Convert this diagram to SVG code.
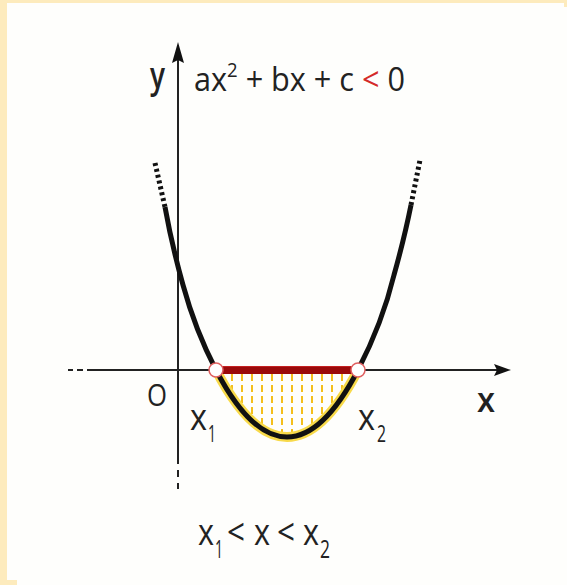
<svg xmlns="http://www.w3.org/2000/svg" width="567" height="585" viewBox="0 0 567 585">
<style>
.t{font-family:"Open Sans","Liberation Sans",sans-serif;fill:#222}
.ax{stroke:#222;stroke-width:2;fill:none}
.curve{stroke:#111;stroke-width:5;fill:none;stroke-linecap:butt}
.dots{stroke:#111;stroke-width:5;fill:none;stroke-dasharray:3 3}
.hatch{stroke:#f4bf1c;stroke-width:2;stroke-dasharray:7 4}
</style>
<rect x="0" y="0" width="567" height="585" fill="#fdebbd"/>
<rect x="7" y="3" width="560" height="582" fill="#fefefc"/>
<rect x="0" y="580" width="17" height="5" fill="#fdebbd"/>
<rect x="564" y="0" width="3" height="7" fill="#fdebbd"/>

<g id="axes">
  <line class="ax" x1="178" y1="60" x2="178" y2="464"/>
  <line class="ax" x1="178" y1="470" x2="178" y2="477"/>
  <line class="ax" x1="178" y1="483" x2="178" y2="489"/>
  <polygon points="178,42 184,63 178,60 172,63" fill="#111"/>
  <line class="ax" x1="87" y1="370" x2="498" y2="370"/>
  <line class="ax" x1="68" y1="370" x2="73" y2="370"/>
  <line class="ax" x1="77" y1="370" x2="83" y2="370"/>
  <polygon points="511,370 494,364 497,370 494,376" fill="#111"/>
</g>

<g id="region">
  <clipPath id="cl"><path d="M216,370 C230,397 255,437 287,437 C319,437 344,397 358,370 Z"/></clipPath>
  <g clip-path="url(#cl)">
    <line class="hatch" x1="232" y1="374" x2="232" y2="440"/>
    <line class="hatch" x1="242" y1="374" x2="242" y2="440"/>
    <line class="hatch" x1="252" y1="374" x2="252" y2="440"/>
    <line class="hatch" x1="262" y1="374" x2="262" y2="440"/>
    <line class="hatch" x1="272" y1="374" x2="272" y2="440"/>
    <line class="hatch" x1="282" y1="374" x2="282" y2="440"/>
    <line class="hatch" x1="292" y1="374" x2="292" y2="440"/>
    <line class="hatch" x1="302" y1="374" x2="302" y2="440"/>
    <line class="hatch" x1="312" y1="374" x2="312" y2="440"/>
    <line class="hatch" x1="322" y1="374" x2="322" y2="440"/>
    <line class="hatch" x1="332" y1="374" x2="332" y2="440"/>
    <line class="hatch" x1="342" y1="374" x2="342" y2="440"/>
  </g>
  <path d="M216,370 C230,397 255,437 287,437 C319,437 344,397 358,370" fill="none" stroke="#f8da4a" stroke-width="10"/>
</g>

<g id="parabola">
  <path class="dots" d="M155,163 L165,207"/>
  <path class="curve" d="M165,207 C170,235 176,260 183,285 C192,318 203,345 216,370 C230,397 255,437 287,437 C319,437 344,397 358,370 C372,343 385,312 394,275 C401,250 406,230 411,205"/>
  <path class="dots" d="M411,205 L420,160"/>
</g>

<g id="interval">
  <line x1="222" y1="370" x2="352" y2="370" stroke="#9a0a0a" stroke-width="8"/>
  <line x1="222" y1="366.5" x2="352" y2="366.5" stroke="#c42020" stroke-width="1"/>
  <circle cx="216" cy="370" r="7" fill="#fff" stroke="#e06060" stroke-width="1.5"/>
  <circle cx="358" cy="370" r="7" fill="#fff" stroke="#e06060" stroke-width="1.5"/>
</g>

<g id="labels">
  <text class="t" x="150" y="88" font-size="36" font-weight="600" textLength="15" lengthAdjust="spacingAndGlyphs">y</text>
  <text class="t" x="194" y="91" font-size="33" textLength="211" lengthAdjust="spacingAndGlyphs">ax<tspan font-size="20" dy="-14">2</tspan><tspan dy="14"> + bx + c </tspan><tspan fill="#d42a2a">&lt;</tspan> 0</text>
  <text class="t" x="147" y="406" font-size="31" textLength="20" lengthAdjust="spacingAndGlyphs">O</text>
  <text class="t" x="477" y="412" font-size="34" font-weight="600" textLength="18" lengthAdjust="spacingAndGlyphs">x</text>
  <text class="t" x="190" y="430" font-size="36" textLength="17" lengthAdjust="spacingAndGlyphs">x</text>
  <text class="t" x="208" y="442" font-size="24" textLength="8" lengthAdjust="spacingAndGlyphs">1</text>
  <text class="t" x="358" y="430" font-size="36" textLength="17" lengthAdjust="spacingAndGlyphs">x</text>
  <text class="t" x="377" y="442" font-size="24" textLength="9" lengthAdjust="spacingAndGlyphs">2</text>
  <text class="t" x="198" y="545" font-size="37" textLength="16" lengthAdjust="spacingAndGlyphs">x</text>
  <text class="t" x="215" y="558" font-size="25" textLength="8" lengthAdjust="spacingAndGlyphs">1</text>
  <text class="t" x="227" y="545" font-size="37" textLength="18" lengthAdjust="spacingAndGlyphs">&lt;</text>
  <text class="t" x="254" y="545" font-size="37" textLength="16" lengthAdjust="spacingAndGlyphs">x</text>
  <text class="t" x="277" y="545" font-size="37" textLength="18" lengthAdjust="spacingAndGlyphs">&lt;</text>
  <text class="t" x="303" y="545" font-size="37" textLength="16" lengthAdjust="spacingAndGlyphs">x</text>
  <text class="t" x="320" y="558" font-size="25" textLength="10" lengthAdjust="spacingAndGlyphs">2</text>
</g>
</svg>
